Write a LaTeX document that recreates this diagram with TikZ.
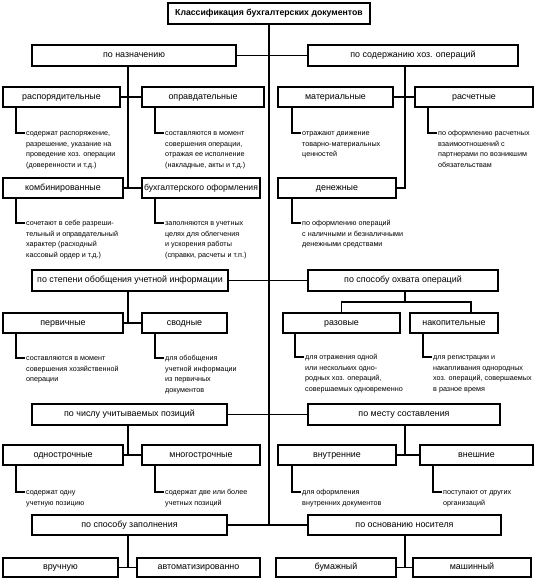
\documentclass[tikz,border=0pt]{standalone}
\usepackage{fontspec}
\setmainfont{Liberation Sans}
\tikzset{
  box/.style={draw, line width=1.8pt, inner sep=0pt, fill=white, text height=6.3pt, text depth=1.9pt, font=\fontsize{8.9}{10}\selectfont},
  titlebox/.style={box, font=\fontsize{8.7}{10}\selectfont\bfseries},
  conn/.style={line width=1.8pt},
  desc/.style={anchor=north west, align=left, inner sep=0pt, font=\fontsize{7.2}{10.5}\selectfont},
}
\newcommand\mkbox[7][box]{\node[#1, minimum width={(#5-#3)*1pt}, minimum height={(#6-#4)*1pt}] (#2) at ({(#3+#5)/2},{(#4+#6)/2}) {#7};}
\newcommand\mkdesc[5]{%
  \coordinate (#4v) at (#2,#3);
  \coordinate (#4e) at (#2+9,#3);
  \draw[conn] (#1.south -| #4v) -- (#4v) -- (#4e);
  \node[desc] (#4) at ([xshift=1pt,yshift=4.85pt]#4e) {\strut #5};
}
\begin{document}
\begin{tikzpicture}[x=1pt,y=-1pt]
\fill[white] (0,0) rectangle (538,581);
\useasboundingbox (0,0) rectangle (538,581);

% boxes
\mkbox[titlebox]{title}{168}{3}{370}{24}{Классификация бухгалтерских документов}
\mkbox{nazn}{32}{45}{236}{66}{по назначению}
\mkbox{soder}{308}{45}{518}{66}{по содержанию хоз. операций}
\mkbox{rasp}{3}{87}{120}{107}{распорядительные}
\mkbox{oprav}{142}{87}{264}{107}{оправдательные}
\mkbox{komb}{3}{178}{123}{198}{комбинированные}
\mkbox[box, font=\fontsize{8.6}{10}\selectfont]{buh}{142}{178}{260}{198}{бухгалтерского оформления}
\mkbox{mat}{278}{87}{393}{107}{материальные}
\mkbox{rasch}{415}{87}{533}{107}{расчетные}
\mkbox{den}{278}{178}{396}{198}{денежные}

\mkbox{step}{32}{270}{228}{291}{по степени обобщения учетной информации}
\mkbox{ohvat}{308}{270}{498}{291}{по способу охвата операций}
\mkbox{perv}{3}{313}{123}{333}{первичные}
\mkbox{svod}{142}{313}{227}{333}{сводные}
\mkbox{raz}{283}{313}{400}{333}{разовые}
\mkbox{nakop}{410}{313}{498}{333}{накопительные}

\mkbox{chislo}{32}{404}{227}{425}{по числу учитываемых позиций}
\mkbox{mesto}{308}{404}{500}{425}{по месту составления}
\mkbox{odno}{3}{445}{123}{465}{однострочные}
\mkbox{mnogo}{142}{445}{260}{465}{многострочные}
\mkbox{vnutr}{278}{445}{396}{465}{внутренние}
\mkbox{vnesh}{420}{445}{533}{465}{внешние}

\mkbox{zapoln}{32}{515}{227}{535}{по способу заполнения}
\mkbox{nositel}{308}{515}{501}{535}{по основанию носителя}
\mkbox{vruch}{3}{558}{118}{577}{вручную}
\mkbox{avto}{137}{558}{260}{577}{автоматизированно}
\mkbox{bum}{276}{558}{396}{577}{бумажный}
\mkbox{mash}{413}{558}{531}{577}{машинный}

% spine and main branches
\draw[conn] (title.south) -- (title.south |- zapoln.east);
\draw[conn] (nazn.east) -- (soder.west);
\draw[conn] (step.east) -- (ohvat.west);
\draw[conn] (chislo.east) -- (mesto.west);
\draw[conn] (zapoln.east) -- (nositel.west);

% section 1
\coordinate (jA) at (128,188);
\draw[conn] (nazn.south -| jA) -- (jA);
\draw[conn] (rasp.east) -- (oprav.west);
\draw[conn] (komb.east) -- (buh.west);
\coordinate (jB) at (405,188);
\draw[conn] (soder.south -| jB) -- (jB) -- (den.east);
\draw[conn] (mat.east) -- (rasch.west);

% section 2
\coordinate (jC) at (128,323);
\draw[conn] (step.south -| jC) -- (jC);
\draw[conn] (perv.east) -- (svod.west);
\coordinate (jD) at (405,302);
\coordinate (jDr) at (471,302);
\draw[conn] (ohvat.south -| jD) -- (jD);
\draw[conn] (raz.north) |- (jDr) -- (jDr |- nakop.north);

% section 3
\coordinate (jE) at (128,455);
\draw[conn] (chislo.south -| jE) -- (jE);
\draw[conn] (odno.east) -- (mnogo.west);
\coordinate (jF) at (405,455);
\draw[conn] (mesto.south -| jF) -- (jF);
\draw[conn] (vnutr.east) -- (vnesh.west);

% section 4
\coordinate (jG) at (128,567.5);
\draw[conn] (zapoln.south -| jG) -- (jG);
\draw[conn] (vruch.east) -- (avto.west);
\coordinate (jH) at (405,567.5);
\draw[conn] (nositel.south -| jH) -- (jH);
\draw[conn] (bum.east) -- (mash.west);

% descriptions
\mkdesc{rasp}{16}{133}{d1}{содержат распоряжение,\\разрешение, указание на\\проведение хоз. операции\\(доверенности и т.д.)}
\mkdesc{oprav}{155}{133}{d2}{составляются в момент\\совершения операции,\\отражая ее исполнение\\(накладные, акты и т.д.)}
\mkdesc{komb}{16}{223}{d3}{сочетают в себе разреши-\\тельный и оправдательный\\характер (расходный\\кассовый ордер и т.д.)}
\mkdesc{buh}{155}{223}{d4}{заполняются в учетных\\целях для облегчения\\и ускорения работы\\(справки, расчеты и т.п.)}
\mkdesc{mat}{292}{133}{d5}{отражают движение\\товарно-материальных\\ценностей}
\mkdesc{rasch}{428}{133}{d6}{по оформлению расчетных\\взаимоотношений с\\партнерами по возникшим\\обязательствам}
\mkdesc{den}{292}{223}{d7}{по оформлению операций\\с наличными и безналичными\\денежными средствами}
\mkdesc{perv}{16}{358}{d8}{составляются в момент\\совершения хозяйственной\\операции}
\mkdesc{svod}{155}{358}{d9}{для обобщения\\учетной информации\\из первичных\\документов}
\mkdesc{raz}{295}{357}{d10}{для отражения одной\\или нескольких одно-\\родных хоз. операций,\\совершаемых одновременно}
\mkdesc{nakop}{423}{357}{d11}{для регистрации и\\накапливания однородных\\хоз. операций, совершаемых\\в разное время}
\mkdesc{odno}{16}{492}{d12}{содержат одну\\учетную позицию}
\mkdesc{mnogo}{155}{492}{d13}{содержат две или более\\учетных позиций}
\mkdesc{vnutr}{292}{492}{d14}{для оформления\\внутренних документов}
\mkdesc{vnesh}{433}{492}{d15}{поступают от других\\организаций}
\end{tikzpicture}
\end{document}
